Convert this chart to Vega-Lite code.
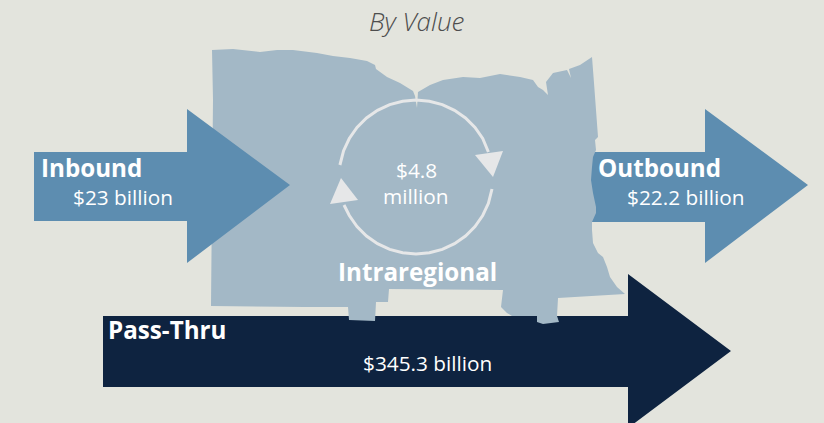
{
"$schema":"https://vega.github.io/schema/vega-lite/v6.json",
"width":824,"height":423,"autosize":{"type":"fit","contains":"padding"},"padding":0,
"background":"#E3E4DD","view":{"stroke":null},
"config":{"axis":null},
"encoding":{
"x":{"field":"x","type":"quantitative","scale":{"domain":[0,824],"nice":false,"zero":false},"axis":null},
"y":{"field":"y","type":"quantitative","scale":{"domain":[423,0],"nice":false,"zero":false},"axis":null}
},
"layer":[
{"data":{"values":[{"i":1,"x":103,"y":316},{"i":2,"x":628,"y":316},{"i":3,"x":628,"y":274},{"i":4,"x":731,"y":351},{"i":5,"x":628,"y":428},{"i":6,"x":628,"y":387},{"i":7,"x":103,"y":387}]},
"mark":{"type":"line","fill":"#0E2340","strokeWidth":0,"clip":true},"encoding":{"order":{"field":"i","type":"quantitative"}}},
{"data":{"values":[{"i":1,"x":585,"y":152},{"i":2,"x":705,"y":152},{"i":3,"x":705,"y":109},{"i":4,"x":808,"y":185},{"i":5,"x":705,"y":263},{"i":6,"x":705,"y":222},{"i":7,"x":585,"y":222}]},
"mark":{"type":"line","fill":"#5D8DB0","strokeWidth":0,"clip":true},"encoding":{"order":{"field":"i","type":"quantitative"}}},
{"data":{"values":[
{"i":1,"x":212,"y":50},{"i":2,"x":233,"y":49},{"i":3,"x":260,"y":52},{"i":4,"x":277,"y":50},{"i":5,"x":293,"y":50},{"i":6,"x":317,"y":53},{"i":7,"x":333,"y":56},{"i":8,"x":350,"y":58},{"i":9,"x":367,"y":61},{"i":10,"x":375,"y":65},{"i":11,"x":376,"y":69},{"i":12,"x":387,"y":77},{"i":13,"x":400,"y":83},{"i":14,"x":413,"y":91},{"i":15,"x":415,"y":96},{"i":16,"x":417,"y":108},{"i":17,"x":418,"y":92},{"i":18,"x":430,"y":85},{"i":19,"x":443,"y":80},{"i":20,"x":463,"y":77},{"i":21,"x":480,"y":78},{"i":22,"x":500,"y":74},{"i":23,"x":520,"y":77},{"i":24,"x":533,"y":80},{"i":25,"x":538,"y":87},{"i":26,"x":543,"y":90},{"i":27,"x":548,"y":95},{"i":28,"x":546,"y":82},{"i":29,"x":553,"y":73},{"i":30,"x":567,"y":70},{"i":31,"x":571,"y":78},{"i":32,"x":569,"y":69},{"i":33,"x":580,"y":65},{"i":34,"x":592,"y":57},{"i":35,"x":594,"y":83},{"i":36,"x":598,"y":137},{"i":37,"x":595,"y":140},{"i":38,"x":596,"y":150},{"i":39,"x":593,"y":157},{"i":40,"x":592,"y":167},{"i":41,"x":591,"y":180},{"i":42,"x":593,"y":193},{"i":43,"x":596,"y":207},{"i":44,"x":596,"y":213},{"i":45,"x":592,"y":222},{"i":46,"x":592,"y":230},{"i":47,"x":593,"y":243},{"i":48,"x":598,"y":253},{"i":49,"x":603,"y":257},{"i":50,"x":607,"y":267},{"i":51,"x":610,"y":277},{"i":52,"x":617,"y":287},{"i":53,"x":625,"y":294},{"i":54,"x":558,"y":298},{"i":55,"x":557,"y":316},{"i":56,"x":559,"y":322},{"i":57,"x":543,"y":324},{"i":58,"x":537,"y":322},{"i":59,"x":537,"y":316},{"i":60,"x":512,"y":316},{"i":61,"x":507,"y":313},{"i":62,"x":501,"y":307},{"i":63,"x":503,"y":290},{"i":64,"x":389,"y":289},{"i":65,"x":388,"y":302},{"i":66,"x":376,"y":302},{"i":67,"x":375,"y":321},{"i":68,"x":349,"y":320},{"i":69,"x":348,"y":307},{"i":70,"x":305,"y":307},{"i":71,"x":211,"y":306},{"i":72,"x":212,"y":200},{"i":73,"x":213,"y":100}
]},
"mark":{"type":"line","fill":"#A3B8C6","strokeWidth":0,"clip":true},"encoding":{"order":{"field":"i","type":"quantitative"}}},
{"data":{"values":[{"i":1,"x":34,"y":152},{"i":2,"x":187,"y":152},{"i":3,"x":187,"y":109},{"i":4,"x":290,"y":185},{"i":5,"x":187,"y":263},{"i":6,"x":187,"y":221},{"i":7,"x":34,"y":221}]},
"mark":{"type":"line","fill":"#5D8DB0","strokeWidth":0,"clip":true},"encoding":{"order":{"field":"i","type":"quantitative"}}},
{"data":{"values":[
{"a":"top","i":1,"x":339.9,"y":165},{"a":"top","i":2,"x":343.6,"y":150.7},{"a":"top","i":3,"x":349.3,"y":138.5},{"a":"top","i":4,"x":357,"y":127.5},{"a":"top","i":5,"x":366.5,"y":118},{"a":"top","i":6,"x":377.5,"y":110.3},{"a":"top","i":7,"x":389.7,"y":104.6},{"a":"top","i":8,"x":402.6,"y":101.2},{"a":"top","i":9,"x":416,"y":100},{"a":"top","i":10,"x":429.4,"y":101.2},{"a":"top","i":11,"x":442.3,"y":104.6},{"a":"top","i":12,"x":454.5,"y":110.3},{"a":"top","i":13,"x":465.5,"y":118},{"a":"top","i":14,"x":475,"y":127.5},{"a":"top","i":15,"x":482.7,"y":138.5},{"a":"top","i":16,"x":488.4,"y":152},
{"a":"bottom","i":1,"x":492,"y":189},{"a":"bottom","i":2,"x":488.4,"y":203.3},{"a":"bottom","i":3,"x":482.7,"y":215.5},{"a":"bottom","i":4,"x":475,"y":226.5},{"a":"bottom","i":5,"x":465.5,"y":236},{"a":"bottom","i":6,"x":454.5,"y":243.7},{"a":"bottom","i":7,"x":442.3,"y":249.4},{"a":"bottom","i":8,"x":429.4,"y":252.8},{"a":"bottom","i":9,"x":416,"y":254},{"a":"bottom","i":10,"x":402.6,"y":252.8},{"a":"bottom","i":11,"x":389.7,"y":249.4},{"a":"bottom","i":12,"x":377.5,"y":243.7},{"a":"bottom","i":13,"x":366.5,"y":236},{"a":"bottom","i":14,"x":357,"y":226.5},{"a":"bottom","i":15,"x":349.3,"y":215.5},{"a":"bottom","i":16,"x":344,"y":205}
]},
"mark":{"type":"line","color":"#E6E7E8","strokeWidth":3,"strokeCap":"butt"},"encoding":{"detail":{"field":"a"},"order":{"field":"i","type":"quantitative"}}},
{"data":{"values":[{"i":1,"x":475,"y":155},{"i":2,"x":503,"y":151},{"i":3,"x":493,"y":177}]},
"mark":{"type":"line","fill":"#E6E7E8","strokeWidth":0},"encoding":{"order":{"field":"i","type":"quantitative"}}},
{"data":{"values":[{"i":1,"x":341,"y":178},{"i":2,"x":330,"y":204},{"i":3,"x":358,"y":200}]},
"mark":{"type":"line","fill":"#E6E7E8","strokeWidth":0},"encoding":{"order":{"field":"i","type":"quantitative"}}},
{"data":{"values":[{"t":"Inbound","x":41,"y":177},{"t":"Outbound","x":598,"y":177},{"t":"Pass-Thru","x":108,"y":339},{"t":"Intraregional","x":338,"y":281}]},
"mark":{"type":"text","font":"Open Sans","fontWeight":"bold","fontSize":24.2,"align":"left","baseline":"alphabetic","color":"#FFFFFF"},"encoding":{"text":{"field":"t"}}},
{"data":{"values":[{"t":"$23 billion","x":73,"y":205},{"t":"$22.2 billion","x":627,"y":205},{"t":"$4.8","x":396,"y":178},{"t":"million","x":383,"y":204},{"t":"$345.3 billion","x":363,"y":371}]},
"mark":{"type":"text","font":"Open Sans","fontSize":20.8,"align":"left","baseline":"alphabetic","color":"#FFFFFF"},"encoding":{"text":{"field":"t"}}},
{"data":{"values":[{"t":"By Value","x":369,"y":31}]},
"mark":{"type":"text","font":"Open Sans","fontStyle":"italic","fontWeight":300,"fontSize":26,"align":"left","baseline":"alphabetic","color":"#4D4D4D"},"encoding":{"text":{"field":"t"}}}
]
}
